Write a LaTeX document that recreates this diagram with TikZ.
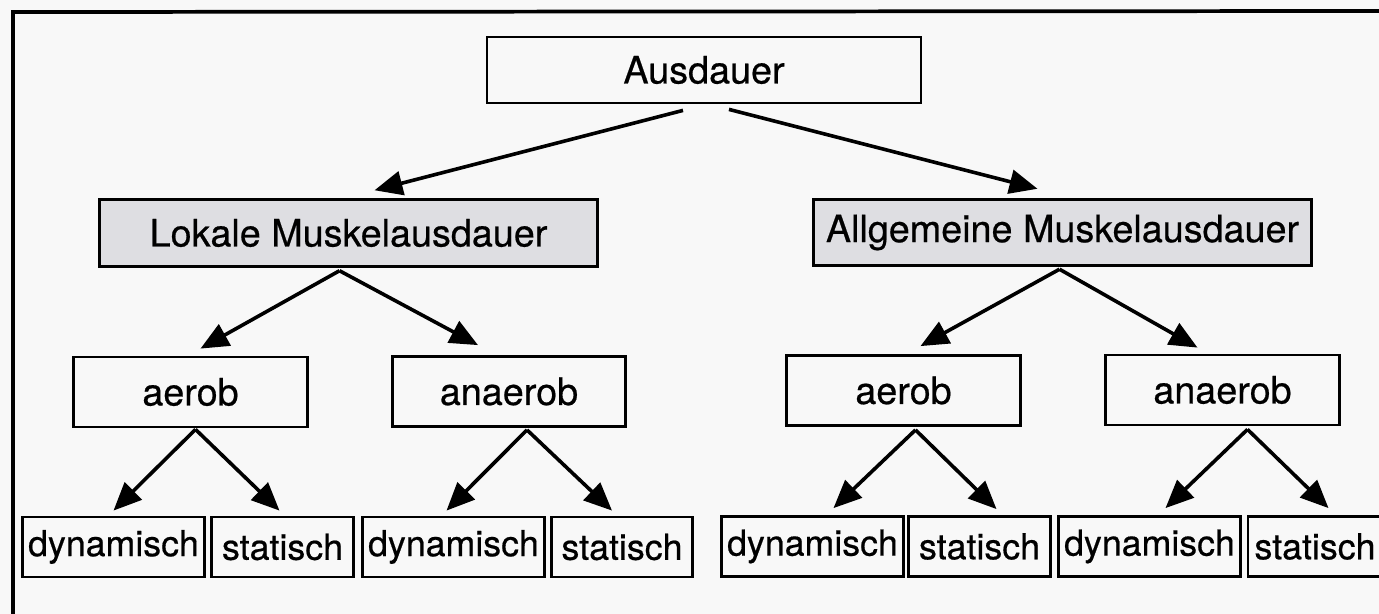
\documentclass[tikz,border=0pt]{standalone}
\usepackage{fontspec}
\setmainfont{TeX Gyre Heros}[FakeBold=0.5]
\usetikzlibrary{arrows.meta,calc}
\definecolor{grau}{RGB}{222,222,226}
\definecolor{papier}{RGB}{248,248,248}
\tikzset{
  kasten/.style={draw, line width=2.1pt, inner sep=0pt, font=\fontsize{28.3}{34}\selectfont},
  ebeneA/.style={kasten, minimum width=325.5pt, minimum height=49.5pt},
  ebeneB/.style={kasten, fill=grau, minimum width=374pt, minimum height=50pt},
  ebeneC/.style={kasten, minimum width=175pt, minimum height=52.5pt},
  dynbox/.style={kasten, minimum width=137pt, minimum height=45pt, font=\fontsize{26.8}{32}\selectfont},
  statbox/.style={kasten, minimum width=106pt, minimum height=45pt, font=\fontsize{26.8}{32}\selectfont},
  pfeil/.style={line width=2.7pt, -{Triangle[length=21pt,width=18pt]}},
}
\begin{document}
\begin{tikzpicture}[x=0.75pt,y=0.75pt,yscale=-1,xscale=1]
\fill[papier] (0,0) rectangle (1379,614);
\clip (0,0) rectangle (1379,614);

%frame
\draw [line width=2.8pt]  (13,614) -- (13,12) -- (1379,11) ;

%boxes
\draw (704,70) node [ebeneA] (aus) {Ausdauer};
\draw (348.5,233) node [ebeneB] (lok) {Lokale Muskelausdauer};
\draw (1062.5,232.5) node [ebeneB] (allg) {Allgemeine Muskelausdauer};
\draw (190.5,392) node [ebeneC] (aerL) {aerob};
\draw (509,391.5) node [ebeneC] (anaerL) {anaerob};
\draw (903.5,390.5) node [ebeneC] (aerR) {aerob};
\draw (1222.5,390) node [ebeneC] (anaerR) {anaerob};
\draw (113.5,547) node [dynbox] (dynA) {dynamisch};
\draw (282.5,547) node [statbox] (statA) {statisch};
\draw (453.5,547) node [dynbox] (dynB) {dynamisch};
\draw (622,547) node [statbox] (statB) {statisch};
\draw (812.5,546.5) node [dynbox] (dynC) {dynamisch};
\draw (979.5,546.5) node [statbox] (statC) {statisch};
\draw (1149.5,546.5) node [dynbox] (dynD) {dynamisch};
\draw (1315,546.5) node [statbox, minimum width=100.5pt] (statD) {statisch};

%arrows
\draw [pfeil] ($(aus.south)+(-21,6)$) -- ($(lok.north)+(26,-8)$);
\draw [pfeil] ($(aus.south)+(25,5)$) -- ($(allg.north)+(-25,-9)$);

\draw [pfeil] ($(lok.south)+(-9,3)$) -- ($(aerL.north)+(10,-7)$);
\draw [pfeil] ($(lok.south)+(-9,3)$) -- ($(anaerL.north)+(-31,-10)$);
\draw [pfeil] ($(allg.south)+(-3,2)$) -- ($(aerR.north)+(17,-8)$);
\draw [pfeil] ($(allg.south)+(-3,2)$) -- ($(anaerR.north)+(-25,-6)$);

\draw [pfeil] ($(aerL.south)+(5,1)$) -- ($(dynA.north)+(0,-5)$);
\draw [pfeil] ($(aerL.south)+(5,1)$) -- ($(statA.north)+(-3,-5)$);
\draw [pfeil] ($(anaerL.south)+(18,2)$) -- ($(dynB.north)+(-7,-5)$);
\draw [pfeil] ($(anaerL.south)+(18,2)$) -- ($(statB.north)+(-10,-5)$);
\draw [pfeil] ($(aerR.south)+(12,3)$) -- ($(dynC.north)+(21,-7)$);
\draw [pfeil] ($(aerR.south)+(12,3)$) -- ($(statC.north)+(17,-6)$);
\draw [pfeil] ($(anaerR.south)+(25,3)$) -- ($(dynD.north)+(16,-7)$);
\draw [pfeil] ($(anaerR.south)+(25,3)$) -- ($(statD.north)+(13.5,-7)$);

\end{tikzpicture}
\end{document}
